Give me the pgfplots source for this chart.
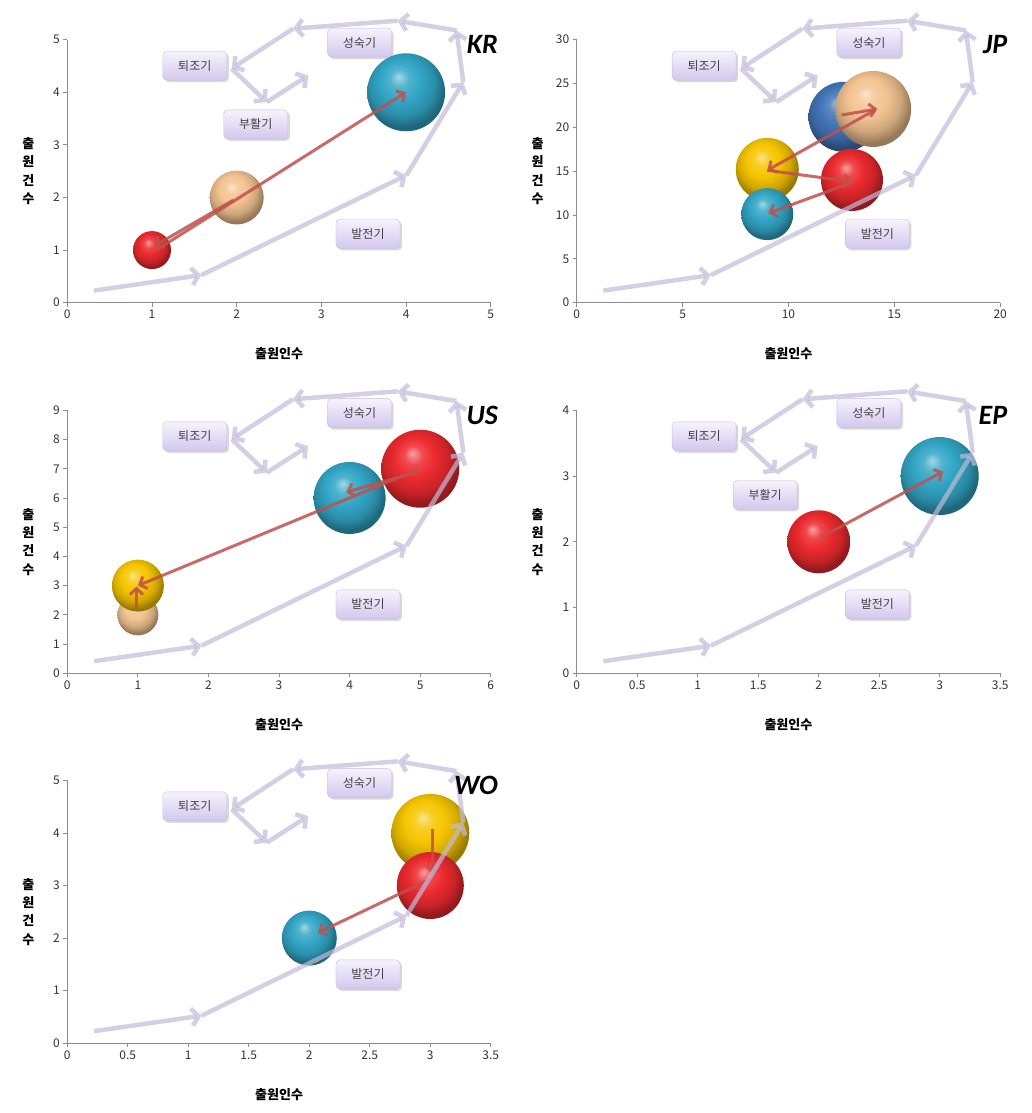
\documentclass[border=0pt]{standalone}
\usepackage{fontspec}
\setmainfont{Noto Sans CJK KR}
\newfontfamily\carlito{Carlito}
\usepackage{pgfplots}
\pgfplotsset{compat=1.18}
\usetikzlibrary{arrows.meta,shadows}

\definecolor{lav}{HTML}{C2BBDA}
\definecolor{boxtop}{HTML}{F6F3FC}
\definecolor{boxbot}{HTML}{D2C8EE}
\definecolor{boxline}{HTML}{C6BCE2}
\definecolor{arr}{HTML}{C0504D}
\definecolor{bred}{HTML}{EC2A2E}
\definecolor{btan}{HTML}{F2C391}
\definecolor{bteal}{HTML}{32A6C6}
\definecolor{byel}{HTML}{F6C500}
\definecolor{bblue}{HTML}{4275B8}
\definecolor{axgray}{HTML}{8C8C8C}

% softer ball shading than the tikz default (ball edge sits near 25bp)
\makeatletter
\pgfdeclareradialshading[tikz@ball]{ball}{\pgfqpoint{-5bp}{10bp}}{%
  color(0bp)=(tikz@ball!45!white); color(6bp)=(tikz@ball!85!white);
  color(13bp)=(tikz@ball); color(21bp)=(tikz@ball!85!black);
  color(27bp)=(tikz@ball!62!black); color(50bp)=(tikz@ball!62!black)}
\makeatother

\pgfplotsset{
  panel/.style={
    width=423.5pt, height=263pt, scale only axis,
    axis x line*=bottom, axis y line*=left,
    axis line style={axgray, line width=0.8pt},
    tick style={axgray, line width=0.8pt},
    tick align=outside, major tick length=4pt,
    xmin=0, ymin=0, clip=false, clip marker paths=true,
    /pgf/number format/assume math mode=true,
    tick label style={font=\fontsize{12}{14}\selectfont, text=black!80},
    xlabel={출원인수}, ylabel={출\\원\\건\\수},
    every axis x label/.style={at={(rel axis cs:0.5,0)}, anchor=center,
      yshift=-51pt, font=\fontsize{13}{15}\selectfont\bfseries},
    every axis y label/.style={at={(rel axis cs:0,0.5)}, anchor=center,
      xshift=-39pt, align=center, font=\fontsize{13}{18.3}\selectfont\bfseries},
  },
  bub/.style={only marks, mark=ball, mark options={ball color=#1, draw opacity=0}},
  move/.style={arr, opacity=0.85, line width=3pt,
    -{Straight Barb[length=6pt,width=13pt]}},
}
\tikzset{
  lc/.style={lav, opacity=0.7, line width=4.5pt,
    -{Straight Barb[length=7pt,width=17pt]}},
  stage/.style={rounded corners=4pt, minimum width=64pt, minimum height=29pt,
    top color=boxtop, bottom color=boxbot, draw=boxline,
    drop shadow={opacity=0.3, shadow xshift=2pt, shadow yshift=-2pt},
    font=\fontsize{12}{14}\selectfont, text=black!75},
  country/.style={anchor=east, font=\carlito\bfseries\itshape\fontsize{28}{30}\selectfont},
}

% life-cycle curve and stage boxes, same place in every panel
\newcommand\lifecycle{%
  \draw[lc] (rel axis cs:0.063,0.046) -- (rel axis cs:0.317,0.105);
  \draw[lc] (rel axis cs:0.317,0.105) -- (rel axis cs:0.801,0.485);
  \draw[lc] (rel axis cs:0.801,0.485) -- (rel axis cs:0.935,0.839);
  \draw[lc] (rel axis cs:0.935,0.839) -- (rel axis cs:0.919,1.035);
  \draw[lc] (rel axis cs:0.919,1.035) -- (rel axis cs:0.780,1.072);
  \draw[lc] (rel axis cs:0.780,1.072) -- (rel axis cs:0.533,1.042);
  \draw[lc] (rel axis cs:0.533,1.042) -- (rel axis cs:0.388,0.890);
  \draw[lc] (rel axis cs:0.388,0.890) -- (rel axis cs:0.471,0.763);
  \draw[lc] (rel axis cs:0.471,0.763) -- (rel axis cs:0.569,0.864);
  \node[stage] at (rel axis cs:0.301,0.901) {퇴조기};
  \node[stage] at (rel axis cs:0.690,0.989) {성숙기};
  \node[stage] at (rel axis cs:0.710,0.262) {발전기};
}
\newcommand\revival{\node[stage] at (rel axis cs:0.445,0.678) {부활기};}

\begin{document}
\begin{tikzpicture}
\useasboundingbox (0,0) rectangle (1031pt,1113pt);

% KR
\begin{axis}[panel, at={(67.3pt,810.3pt)}, anchor=south west,
  xmax=5, ymax=5, xtick={0,...,5}, ytick={0,...,5}]
  \addplot[bub=btan, mark size=27] coordinates {(2,2)};
  \addplot[bub=bred, mark size=19] coordinates {(1,1)};
  \addplot[bub=bteal, mark size=39] coordinates {(4,4)};
  \addplot[move] coordinates {(1.96,1.95) (1.03,1.08)};
  \addplot[move] coordinates {(1.05,1.0) (4.0,4.0)};
  \lifecycle \revival
  \node[country] at (rel axis cs:1.025,0.982) {KR};
\end{axis}

% JP
\begin{axis}[panel, at={(576.7pt,810.3pt)}, anchor=south west,
  xmax=20, ymax=30, xtick={0,5,...,20}, ytick={0,5,...,30}]
  \addplot[bub=bblue, mark size=35] coordinates {(12.6,21.2)};
  \addplot[bub=btan, mark size=38] coordinates {(14,22.1)};
  \addplot[bub=byel, mark size=31.5] coordinates {(9,15.2)};
  \addplot[bub=bteal, mark size=26] coordinates {(9,10.1)};
  \addplot[bub=bred, mark size=31] coordinates {(13,14)};
  \addplot[move] coordinates {(12.5,21.4) (14.2,22.1)};
  \addplot[move] coordinates {(14.1,22.0) (9.0,15.1)};
  \addplot[move] coordinates {(9.0,15.1) (13.0,13.8)};
  \addplot[move] coordinates {(13.1,13.8) (9.05,10.2)};
  \lifecycle
  \node[country] at (rel axis cs:1.025,0.982) {JP};
\end{axis}

% US
\begin{axis}[panel, at={(67.3pt,439.7pt)}, anchor=south west,
  xmax=6, ymax=9, xtick={0,...,6}, ytick={0,...,9}]
  \addplot[bub=btan, mark size=20.5] coordinates {(1,2)};
  \addplot[bub=byel, mark size=26] coordinates {(1,3)};
  \addplot[bub=bteal, mark size=36] coordinates {(4,6)};
  \addplot[bub=bred, mark size=39] coordinates {(5,7)};
  \addplot[move] coordinates {(4.99,6.91) (3.95,6.2)};
  \addplot[move] coordinates {(4.95,6.95) (1.0,3.0)};
  \addplot[move] coordinates {(0.98,2.17) (0.98,2.97)};
  \lifecycle
  \node[country] at (rel axis cs:1.025,0.982) {US};
\end{axis}

% EP
\begin{axis}[panel, at={(576.7pt,439.7pt)}, anchor=south west,
  xmax=3.5, ymax=4, xtick={0,0.5,...,3.5}, ytick={0,...,4}]
  \addplot[bub=bred, mark size=31.5] coordinates {(2,2)};
  \addplot[bub=bteal, mark size=39] coordinates {(3,3)};
  \addplot[move] coordinates {(2.01,2.06) (3.03,3.07)};
  \lifecycle \revival
  \node[country] at (rel axis cs:1.025,0.982) {EP};
\end{axis}

% WO
\begin{axis}[panel, at={(67.3pt,69.7pt)}, anchor=south west,
  xmax=3.5, ymax=5, xtick={0,0.5,...,3.5}, ytick={0,...,5}]
  \addplot[bub=bteal, mark size=27.5] coordinates {(2,2)};
  \addplot[bub=byel, mark size=39] coordinates {(3,4)};
  \addplot[bub=bred, mark size=33.5] coordinates {(3,3)};
  \addplot[move] coordinates {(3.02,4.08) (3.02,3.22)};
  \addplot[move] coordinates {(3.0,3.12) (2.07,2.10)};
  \lifecycle
  \node[country] at (rel axis cs:1.025,0.982) {WO};
\end{axis}
\end{tikzpicture}
\end{document}
